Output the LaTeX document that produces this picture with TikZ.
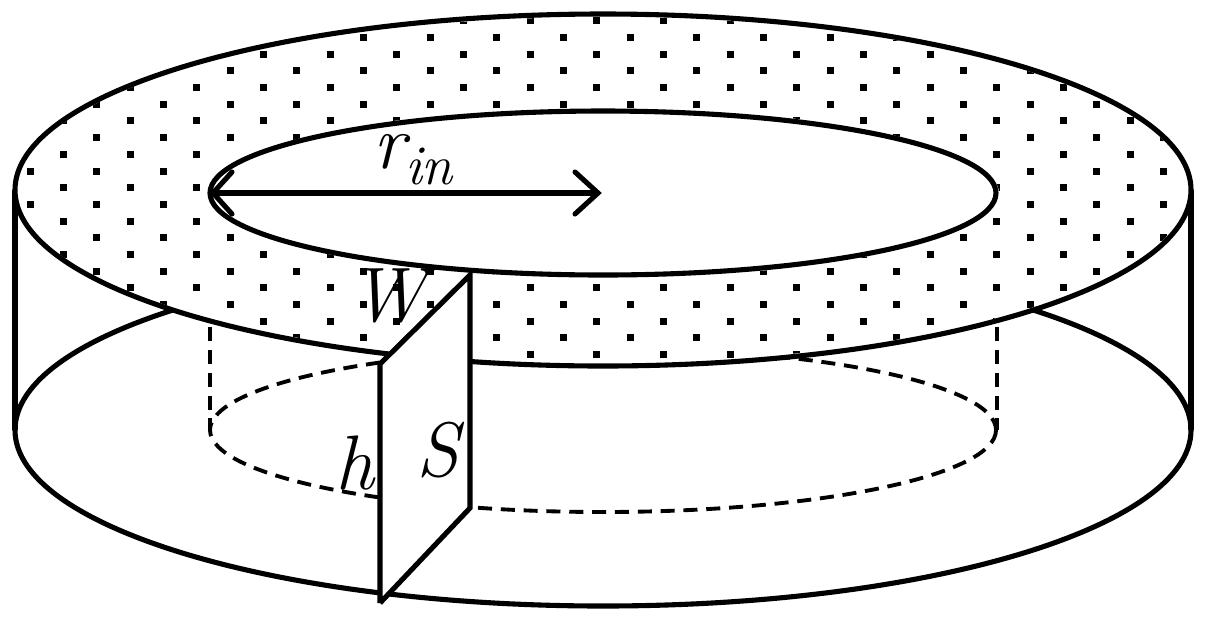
\documentclass[tikz,border=0pt]{standalone}
\begin{document}
\begin{tikzpicture}[x=0.02cm,y=-0.02cm,
  lab/.style={font=\fontsize{44}{44}\selectfont\itshape,inner sep=0pt}]
\useasboundingbox (0,0) rectangle (1206,633);
\def\lw{2.9pt}
% bottom outer ellipse
\draw[line width=\lw] (603,430) ellipse [x radius=588,y radius=176];
% sides
\draw[line width=\lw] (15,190) -- (15,430) (1191,190) -- (1191,430);
% inner dashed
\draw[line width=2.2pt,dash pattern=on 8pt off 5pt] (603,430) ellipse [x radius=393,y radius=82];
\draw[line width=2.2pt,dash pattern=on 8pt off 5pt] (210,190) -- (210,430) (997,190) -- (997,430);
% top surface
\fill[white] (603,190) ellipse [x radius=588,y radius=176];
\begin{scope}[even odd rule]
\clip (603,190) ellipse [x radius=585,y radius=173] (603,193) ellipse [x radius=396,y radius=85];
\foreach \r in {0,...,22}{
  \pgfmathsetmacro\yy{4.3+16.67*\r}
  \pgfmathsetmacro\off{mod(\r,2)*33.33}
  \foreach \c in {0,...,18}{
    \fill ({30-66.67+\off+66.67*\c-3.5},{\yy-3.5}) rectangle ++(7,7);
  }
}
\end{scope}
\draw[line width=\lw] (603,190) ellipse [x radius=588,y radius=176];
\draw[line width=\lw] (603,193) ellipse [x radius=393,y radius=82];
% cut plane
\coordinate (a) at (380,364);
\coordinate (b) at (470,275);
\coordinate (c) at (380,603);
\coordinate (d) at (470,508);
\fill[white] (a) -- (b) -- (d) -- (c) -- cycle;
\draw[line width=\lw] (c) -- (a) -- (b) -- (d) -- (c);
% arrow
\coordinate (p) at (213,193);
\coordinate (q) at (598,193);
\draw[line width=\lw] (p) -- (q);
\draw[line width=\lw,line cap=round] (575,172) -- (q) -- (575,214);
\draw[line width=\lw,line cap=round] (232,172) -- (p) -- (232,214);
\node[lab] (rin) at (413,160) {r\raisebox{-9pt}{\fontsize{32}{32}\selectfont in}};
\node[lab] (w) at (388,296) {W};
\node[lab] (s) at (438,450) {S};
\node[lab] (h) at (355,463) {h};
\end{tikzpicture}
\end{document}
